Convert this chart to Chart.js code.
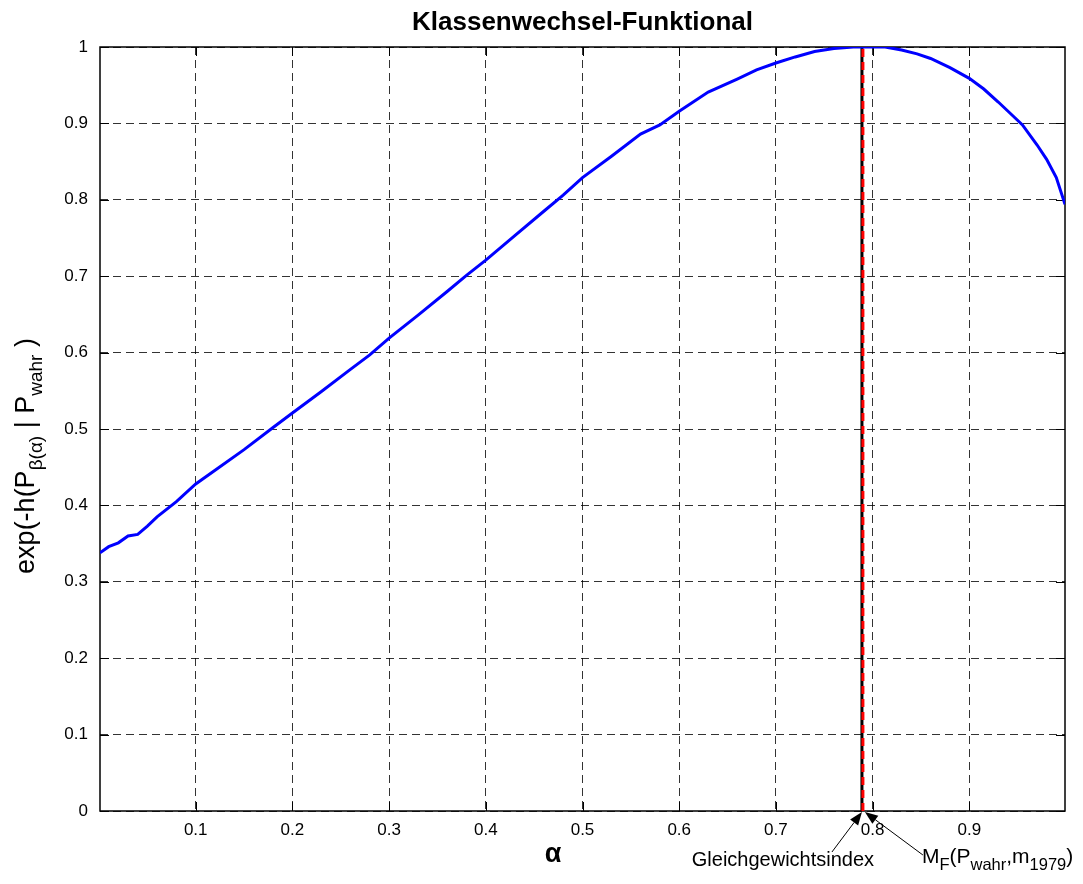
<!DOCTYPE html>
<html>
<head>
<meta charset="utf-8">
<script src="https://cdn.jsdelivr.net/npm/chart.js@4.4.0/dist/chart.umd.min.js"></script>
<style>
  html, body { margin: 0; padding: 0; background: #fff; }
  #wrap { width: 1083px; height: 884px; }
</style>
</head>
<body>
<div id="wrap"><canvas id="chart" width="1083" height="884"></canvas></div>
<script>
// Werte
const alphaValues = [0.001, 0.01, 0.02, 0.03, 0.04, 0.05, 0.06, 0.08, 0.1, 0.12, 0.15, 0.18, 0.2, 0.23, 0.26, 0.28, 0.3,
  0.33, 0.36, 0.38, 0.4, 0.43, 0.46, 0.48, 0.5, 0.53, 0.56, 0.58, 0.6, 0.63, 0.66, 0.68, 0.7, 0.72, 0.74, 0.76, 0.78,
  0.8, 0.813, 0.83, 0.846, 0.86, 0.88, 0.9, 0.915, 0.93, 0.945, 0.955, 0.97, 0.98, 0.99, 0.999];
const funktionalValues = [0.338, 0.346, 0.351, 0.360, 0.362, 0.373, 0.385, 0.405, 0.428, 0.446, 0.473, 0.502, 0.521,
  0.549, 0.578, 0.597, 0.619, 0.649, 0.680, 0.701, 0.721, 0.753, 0.785, 0.806, 0.829, 0.857, 0.886, 0.898, 0.916,
  0.941, 0.958, 0.970, 0.979, 0.987, 0.994, 0.998, 1.0, 1.0, 1.0, 0.996, 0.991, 0.985, 0.973, 0.959, 0.945, 0.928,
  0.910, 0.898, 0.872, 0.853, 0.829, 0.794];

const gleichgewichtsindex = 0.789;   // schwarze Linie
const mfWert = 0.790;                // rote gestrichelte Linie
const lineRange = [0, 1];

const xTicks = [0.1, 0.2, 0.3, 0.4, 0.5, 0.6, 0.7, 0.8, 0.9];
const yTicks = [0, 0.1, 0.2, 0.3, 0.4, 0.5, 0.6, 0.7, 0.8, 0.9, 1];

const titel = 'Klassenwechsel-Funktional';
const FONT = "'Liberation Sans', Arial, Helvetica, sans-serif";

// Text mit Tiefstellungen zeichnen, gibt die Breite zurueck
function richText(ctx, parts, x, y, size, subSize, subShift, measureOnly) {
    let cx = x;
    parts.forEach(p => {
        ctx.font = (p.sub ? subSize : size) + 'px ' + FONT;
        if (!measureOnly) ctx.fillText(p.t, cx, y + (p.sub ? subShift : 0));
        cx += ctx.measureText(p.t).width;
    });
    return cx - x;
}

function arrow(ctx, x1, y1, x2, y2) {
    const ang = Math.atan2(y2 - y1, x2 - x1);
    const len = 13, half = 5;
    const c = Math.cos(ang), s = Math.sin(ang);
    ctx.beginPath();
    ctx.moveTo(x1, y1);
    ctx.lineTo(x2 - c * len, y2 - s * len);
    ctx.lineWidth = 1;
    ctx.strokeStyle = '#000';
    ctx.stroke();
    ctx.beginPath();
    ctx.moveTo(x2, y2);
    ctx.lineTo(x2 - c * len - s * half, y2 - s * len + c * half);
    ctx.lineTo(x2 - c * len + s * half, y2 - s * len - c * half);
    ctx.closePath();
    ctx.fillStyle = '#000';
    ctx.fill();
}

// Rahmen, Ticks nach innen (wie MATLAB), Titel und Beschriftungen
const frame = {
    id: 'frame',
    beforeDatasetsDraw(chart) {
        const { ctx, chartArea: a, scales: { x, y } } = chart;
        ctx.save();
        ctx.strokeStyle = '#000';
        ctx.lineWidth = 1.5;
        ctx.strokeRect(a.left, a.top, a.right - a.left, a.bottom - a.top);
        ctx.lineWidth = 1;
        ctx.beginPath();
        xTicks.forEach(v => {
            const px = Math.round(x.getPixelForValue(v)) + 0.5;
            ctx.moveTo(px, a.bottom); ctx.lineTo(px, a.bottom - 9);
            ctx.moveTo(px, a.top); ctx.lineTo(px, a.top + 9);
        });
        yTicks.forEach(v => {
            const py = Math.round(y.getPixelForValue(v)) + 0.5;
            ctx.moveTo(a.left, py); ctx.lineTo(a.left + 9, py);
            ctx.moveTo(a.right, py); ctx.lineTo(a.right - 9, py);
        });
        ctx.stroke();
        ctx.restore();
    },
    afterDraw(chart) {
        const { ctx, chartArea: a, scales: { x } } = chart;
        ctx.save();
        ctx.fillStyle = '#000';

        // Titel ueber der Achsenmitte
        ctx.font = 'bold 26px ' + FONT;
        ctx.textAlign = 'center';
        ctx.textBaseline = 'middle';
        ctx.fillText(titel, (a.left + a.right) / 2, 23);

        ctx.textBaseline = 'alphabetic';
        // x-Achsenbeschriftung
        ctx.font = 'bold 27px ' + FONT;
        ctx.fillText('\u03b1', 553, 862);

        // y-Achsenbeschriftung (gedreht)
        ctx.textAlign = 'left';
        const yParts = [
            { t: 'exp(-h(P' }, { t: '\u03b2(\u03b1)', sub: true }, { t: ' | P' }, { t: 'wahr', sub: true }, { t: ' )' }
        ];
        const w = richText(ctx, yParts, 0, 0, 27, 19, 8, true);
        ctx.translate(34, 456);
        ctx.rotate(-Math.PI / 2);
        richText(ctx, yParts, -w / 2, 0, 27, 19, 8, false);
        ctx.setTransform(1, 0, 0, 1, 0, 0);

        // Annotationen mit Pfeilen
        const gx = x.getPixelForValue(gleichgewichtsindex);
        const mx = x.getPixelForValue(mfWert);
        arrow(ctx, gx - 30, a.bottom + 41, gx, a.bottom + 1);
        arrow(ctx, mx + 60, a.bottom + 44, mx + 2, a.bottom + 1);

        ctx.textAlign = 'center';
        ctx.font = '20px ' + FONT;
        ctx.fillText('Gleichgewichtsindex', gx - 79, a.bottom + 55);

        ctx.textAlign = 'left';
        richText(ctx, [
            { t: 'M' }, { t: 'F', sub: true }, { t: '(P' }, { t: 'wahr', sub: true }, { t: ',m' },
            { t: '1979', sub: true }, { t: ')' }
        ], mx + 59, a.bottom + 52, 21, 16.5, 7, false);
        ctx.restore();
    }
};

const gridOpts = { color: 'rgba(0,0,0,0.8)', lineWidth: 1, drawTicks: false };
const tickFont = { family: FONT, size: 17 };

new Chart(document.getElementById('chart'), {
    type: 'line',
    data: {
        datasets: [
            {
                label: 'Klassenwechsel-Funktional',
                data: alphaValues.map((a, i) => ({ x: a, y: funktionalValues[i] })),
                borderColor: '#0000ff',
                borderWidth: 3,
                pointRadius: 0,
                tension: 0
            },
            {
                label: 'M_F',
                data: lineRange.map(v => ({ x: mfWert, y: v })),
                borderColor: '#ff0000',
                borderWidth: 3,
                borderDash: [8, 5],
                pointRadius: 0
            },
            {
                label: 'Gleichgewichtsindex',
                data: lineRange.map(v => ({ x: gleichgewichtsindex, y: v })),
                borderColor: '#000000',
                borderWidth: 3,
                pointRadius: 0
            }
        ]
    },
    options: {
        responsive: false,
        animation: false,
        devicePixelRatio: 1,
        layout: { padding: { left: 0, right: 18, top: 47, bottom: 0 } },
        plugins: {
            legend: { display: false },
            tooltip: { enabled: false },
            title: { display: false }
        },
        scales: {
            x: {
                type: 'linear',
                min: 0.001,
                max: 0.999,
                afterBuildTicks: s => { s.ticks = xTicks.map(v => ({ value: v })); },
                afterFit: s => { s.height = 73; },
                grid: gridOpts,
                border: { display: false, dash: [8, 5] },
                ticks: { color: '#000', font: tickFont, padding: 9, callback: v => String(+v.toFixed(1)) }
            },
            y: {
                type: 'linear',
                min: 0,
                max: 1,
                afterBuildTicks: s => { s.ticks = yTicks.map(v => ({ value: v })); },
                afterFit: s => { s.width = 100; },
                grid: gridOpts,
                border: { display: false, dash: [8, 5] },
                ticks: { color: '#000', font: tickFont, padding: 12, callback: v => String(+v.toFixed(1)) }
            }
        }
    },
    plugins: [frame]
});
</script>
</body>
</html>
